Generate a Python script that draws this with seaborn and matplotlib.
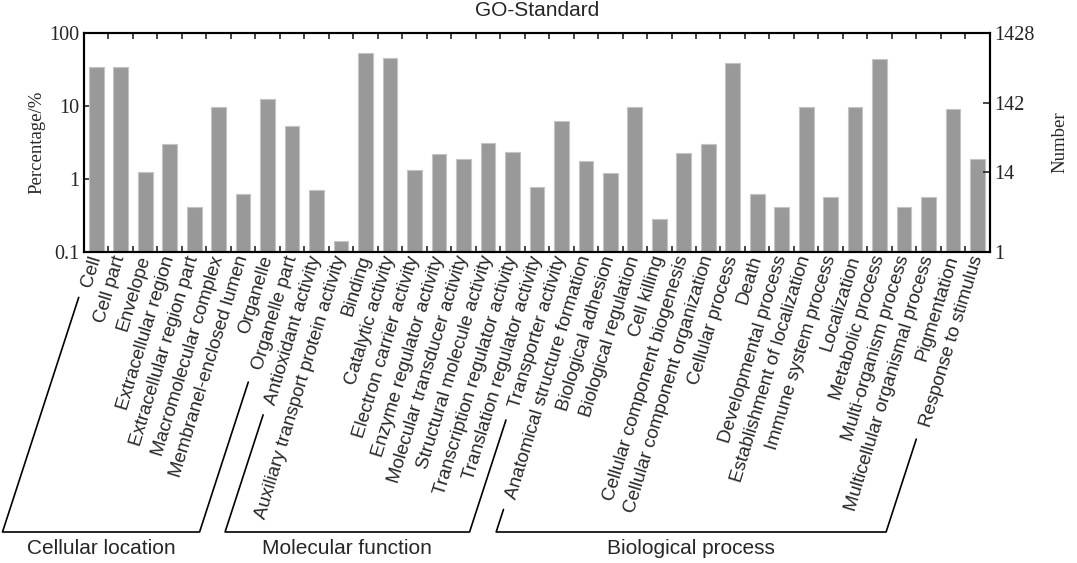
# GO-Standard bar chart: percentage of genes per GO term (log scale),
# with the three GO categories bracketed under the rotated labels.
import numpy as np
import pandas as pd
import matplotlib
matplotlib.use("Agg")
import matplotlib.pyplot as plt
from matplotlib.lines import Line2D
from matplotlib.ticker import FixedLocator, NullLocator
import seaborn as sns

# GO terms in plot order
categories = [
    "Cell", "Cell part", "Envelope", "Extracellular region",
    "Extracellular region part", "Macromolecular complex",
    "Membranel-enclosed lumen", "Organelle", "Organelle part",
    "Antioxidant activity", "Auxiliary transport protein activity", "Binding",
    "Catalytic activity", "Electron carrier activity", "Enzyme regulator activity",
    "Molecular transducer activity", "Structural molecule activity",
    "Transcription regulator activity", "Translation regulator activity",
    "Transporter activity",
    "Anatomical structure formation", "Biological adhesion", "Biological regulation",
    "Cell killing", "Cellular component biogenesis", "Cellular component organization",
    "Cellular process", "Death", "Developmental process",
    "Establishment of localization", "Immune system process", "Localization",
    "Metabolic process", "Multi-organism process", "Multicellular organismal process",
    "Pigmentation", "Response to stimulus",
]

# percentage of genes
percentages = [
    33.8, 33.8, 1.26, 3.0, 0.42, 9.8, 0.63, 12.6, 5.4,
    0.70, 0.14, 53.0, 45.7, 1.34, 2.23, 1.89, 3.09, 2.33, 0.77, 6.3,
    1.74, 1.19, 9.8, 0.28, 2.3, 3.0, 38.4, 0.63, 0.42, 9.8, 0.56, 9.8,
    43.4, 0.42, 0.56, 9.0, 1.88,
]

group_names = ["Cellular location", "Molecular function", "Biological process"]
group_sizes = [9, 11, 17]

pct_ticks = [0.1, 1, 10, 100]
pct_tick_labels = ["0.1", "1", "10", "100"]
number_ticks = [1, 14, 142, 1428]
number_tick_labels = ["1", "14", "142", "1428"]

sns.set_style("ticks")
plt.rcParams["font.family"] = ["Liberation Sans", "DejaVu Sans"]
serif = "Liberation Serif"

fig = plt.figure(figsize=(10.77, 5.63), dpi=100)
ax = fig.add_axes([0.078, 0.5524, 0.841, 0.389])

df = pd.DataFrame({"term": categories, "pct": percentages})
ax.set_yscale("log")
sns.barplot(data=df, x="term", y="pct", color="#999999", saturation=1,
            width=0.6, edgecolor="#c4c4c4", linewidth=0.8, ax=ax)
ax.set_ylim(0.1, 100)
n = len(categories)
ax.set_xlim(-0.5, n - 0.5)

# x labels, rotated; ticks sit between the bars
ax.set_xticks(range(n))
ax.set_xticklabels(categories, rotation=73, ha="right", va="center",
                   rotation_mode="anchor", fontsize=13.5)
ax.tick_params(axis="x", which="major", length=0, pad=3)
ax.xaxis.set_minor_locator(FixedLocator(np.arange(0.5, n - 1, 1.0)))
ax.tick_params(axis="x", which="minor", direction="in", length=4, width=1.2,
               top=True, bottom=True)

ax.yaxis.set_minor_locator(NullLocator())
ax.set_yticks(pct_ticks)
ax.set_yticklabels(pct_tick_labels, family=serif, fontsize=14.5)
ax.tick_params(axis="y", direction="in", length=5, width=1.2, pad=3)
ax.set_xlabel("")
ax.set_ylabel("Percentage/%", family=serif, fontsize=13.5, labelpad=3)
ax.set_title("GO-Standard", fontsize=15, pad=12)

ax2 = ax.twinx()
ax2.set_yscale("log")
ax2.set_ylim(1, 1428)
ax2.yaxis.set_minor_locator(NullLocator())
ax2.set_yticks(number_ticks)
ax2.set_yticklabels(number_tick_labels, family=serif, fontsize=14.5)
ax2.tick_params(axis="y", direction="in", length=5, width=1.2, pad=3)
ax2.set_ylabel("Number", family=serif, fontsize=13.5, labelpad=12)

for a in (ax, ax2):
    for s in a.spines.values():
        s.set_linewidth(1.5)
        s.set_color("black")

# brackets under each group of labels, parallel to the label text
fig.canvas.draw()
renderer = fig.canvas.get_renderer()
labels = ax.get_xticklabels()
W, H = fig.bbox.width, fig.bbox.height
cot = 1 / np.tan(np.radians(72))
y_line = 31

def foot(x, y):
    return x - (y - y_line) * cot

start = 0
for name, size in zip(group_names, group_sizes):
    bb_first = labels[start].get_window_extent(renderer)
    bb_last = labels[start + size - 1].get_window_extent(renderer)
    lx, ly = bb_first.x0, bb_first.y0 - 8
    rx, ry = bb_last.x0 - 1, bb_last.y0 - 10
    xs = [lx, foot(lx, ly), foot(rx, ry), rx]
    ys = [ly, y_line, y_line, ry]
    fig.add_artist(Line2D(np.array(xs) / W, np.array(ys) / H,
                          transform=fig.transFigure, color="black", lw=1.2))
    cx = (foot(lx, ly) + foot(rx, ry)) / 2
    fig.text(cx / W, 15 / H, name, ha="center", va="center", fontsize=15)
    start += size

fig.savefig("out.png", dpi=100)
